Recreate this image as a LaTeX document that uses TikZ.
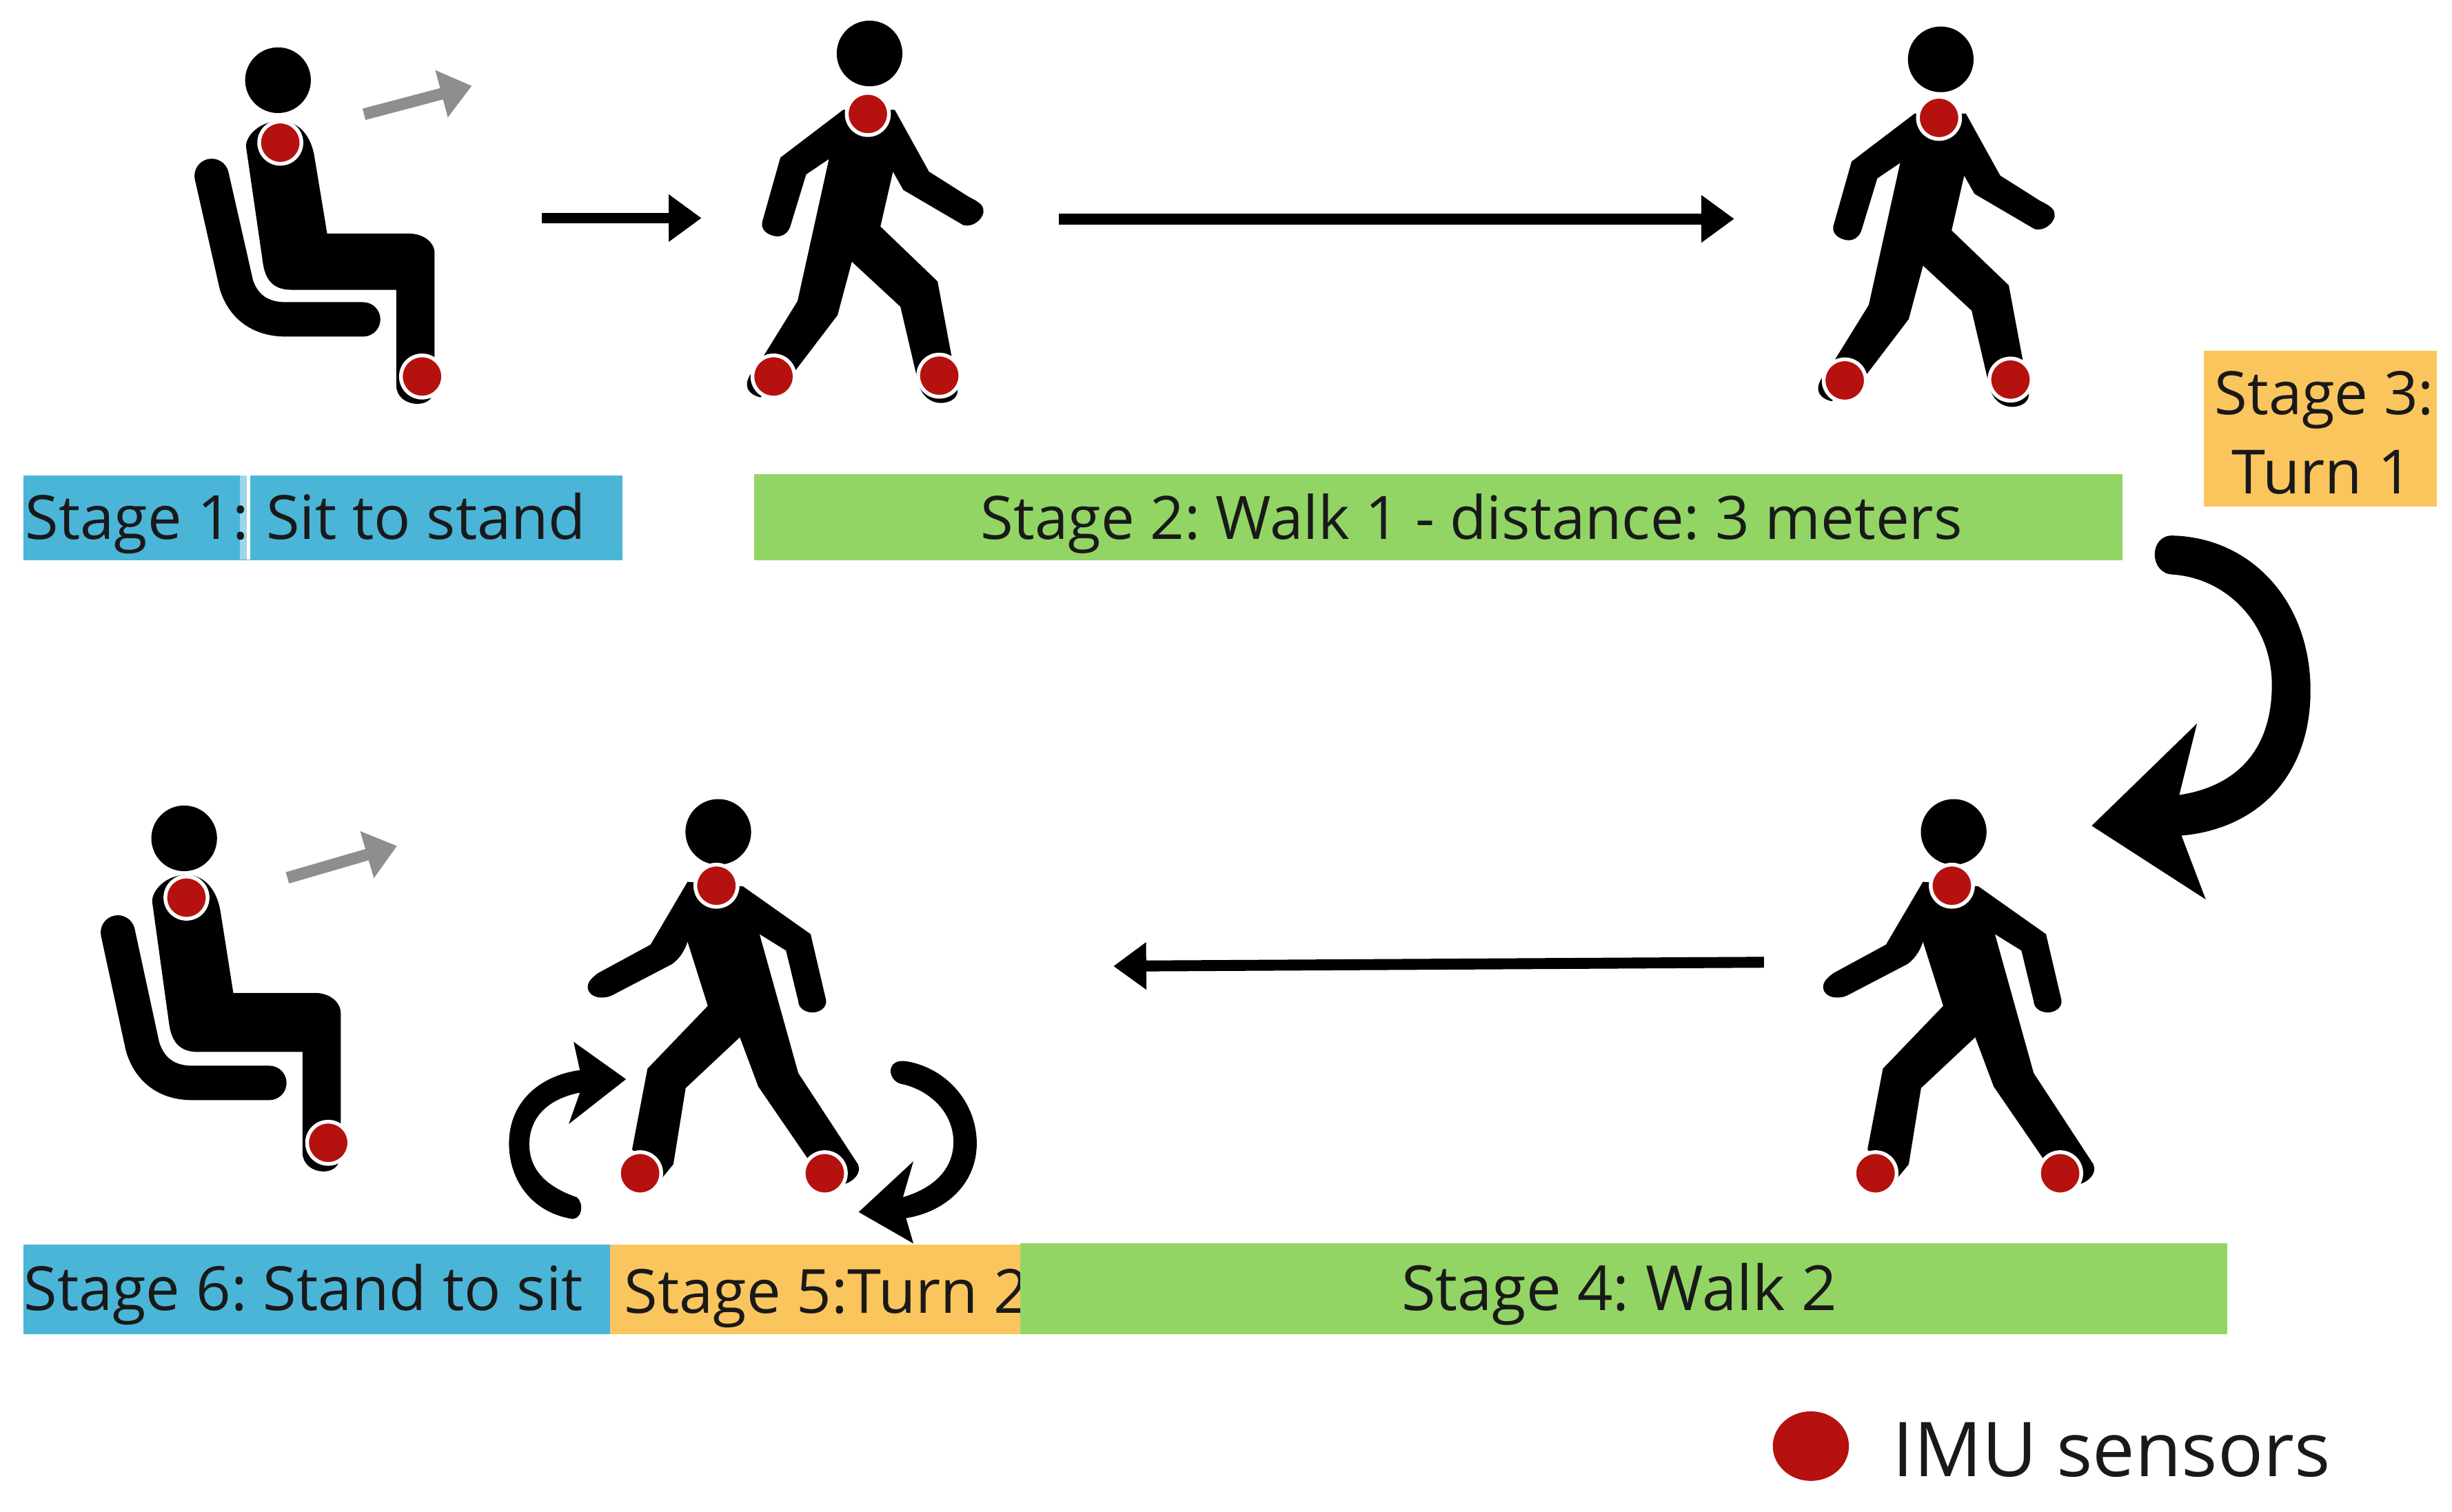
\documentclass[tikz,border=0pt]{standalone}
\usepackage{fontspec}
\setmainfont{Open Sans}
\usetikzlibrary{arrows.meta,shapes.geometric}
\definecolor{sensorred}{HTML}{B5110F}
\definecolor{barblue}{HTML}{4BB5D8}
\definecolor{bargreen}{HTML}{92D565}
\definecolor{barorange}{HTML}{FBC55E}
\definecolor{arrowgray}{HTML}{8E8E8E}
\tikzset{
  headdot/.style={circle,fill=black,minimum size=42pt,inner sep=0pt},
  sensor/.style={circle,fill=sensorred,draw=white,line width=2.4pt,minimum size=27pt,inner sep=0pt},
  stagebar/.style={inner sep=0pt,anchor=north west},
  stagetext/.style={inner sep=0pt,anchor=base west,font=\fontsize{#1}{#1}\selectfont\frenchspacing,text=black!90},
  stagetext/.default=39,
  flow/.style={line width=7pt,-{Triangle[length=21pt,width=29pt]}},
  lean/.style={line width=7.5pt,arrowgray,-{Triangle[length=20pt,width=30pt]}},
  sitfig/.pic={
    \fill[black] (165,520) -- (195,940) .. controls (200,1000) and (215,1030) .. (245,1030)
      -- (428,1030) -- (428,1370) .. controls (428,1410) and (445,1435) .. (465,1435)
      .. controls (485,1435) and (495,1410) .. (495,1370) -- (495,900)
      .. controls (495,860) and (475,830) .. (450,830) -- (307,830) -- (285,560)
      .. controls (280,490) and (260,430) .. (225,430) .. controls (190,430) and (165,480) .. (165,520) -- cycle;
    \draw[black,line width=22pt,line cap=round,line join=round]
      (105,625) -- (148,1010) .. controls (160,1090) and (190,1135) .. (235,1135) -- (370,1135);
    \node[headdot] (-head) at (221,#1) {};
    \node[sensor] (-neck) at (225,507) {};
    \node[sensor] (-foot) at (473,1338) {};
  },
  walkr/.pic={
    \fill[black] (1210,390) -- (1100,560) -- (1068,790) .. controls (1065,825) and (1085,840) .. (1095,840)
      .. controls (1105,840) and (1115,825) .. (1118,800) -- (1145,620) -- (1185,565)
      -- (1130,1070) -- (1060,1300) .. controls (1030,1360) and (1040,1400) .. (1065,1412)
      -- (1125,1320) -- (1200,1120) -- (1225,930) -- (1310,1090) -- (1340,1350)
      .. controls (1345,1410) and (1365,1432) .. (1380,1432) .. controls (1400,1432) and (1412,1410) .. (1410,1380)
      -- (1375,1000) -- (1275,805) -- (1297,610) -- (1315,675) -- (1420,800)
      .. controls (1440,810) and (1458,770) .. (1455,745) .. controls (1455,725) and (1440,710) .. (1430,700)
      -- (1360,610) -- (1300,390) -- cycle;
    \node[headdot] (-head) at (1256,#1) {};
    \node[sensor] (-neck) at (1253,405) {};
    \node[sensor] (-footl) at (1088,1338) {};
    \node[sensor] (-footr) at (1378,1335) {};
  },
  walkl/.pic={
    \fill[black] (1095,360) -- (1205,520) -- (1230,740) .. controls (1232,765) and (1220,782) .. (1208,782)
      .. controls (1195,782) and (1185,765) .. (1185,745) -- (1165,575) -- (1122,520)
      -- (1185,985) -- (1282,1290) .. controls (1288,1320) and (1275,1345) .. (1262,1355)
      -- (1200,1270) -- (1120,1030) -- (1090,865) -- (1002,1035) -- (982,1290)
      -- (960,1345) -- (915,1240) -- (940,970) -- (1038,760) -- (1005,545)
      .. controls (1000,580) and (990,605) .. (980,620) -- (885,722)
      .. controls (870,740) and (845,735) .. (843,700) .. controls (842,680) and (850,665) .. (860,650)
      -- (945,555) -- (1005,345) -- cycle;
    \node[headdot] (-head) at (1055,178) {};
    \node[sensor] (-neck) at (1052,358) {};
    \node[sensor] (-footl) at (928,1320) {};
    \node[sensor] (-footr) at (1228,1320) {};
  },
}
\begin{document}
\begin{tikzpicture}[x=1pt,y=-1pt]
\useasboundingbox (0,0) rectangle (1568,967);
% figures
\pic (sitA) at (97,0) [xscale=.3655,yscale=.18] {sitfig=285};
\pic (walkB) at (97,0) [xscale=.3655,yscale=.18] {walkr=190};
\pic (walkC) at (782,2.5) [xscale=.3655,yscale=.18] {walkr=197};
\pic (sitF) at (37,478.5) [xscale=.3655,yscale=.1887] {sitfig=306};
\pic (walkE) at (44.08,498.1) [xscale=.3936,yscale=.1912] {walkl};
\pic (walkD) at (834.08,498.1) [xscale=.3936,yscale=.1912] {walkl};
% connector ends
\coordinate (a1s) at (346.3,139.5); \coordinate (a1e) at (448.6,139.5);
\coordinate (a2s) at (677,140); \coordinate (a2e) at (1109,140);
\coordinate (a4s) at (1128,615.5); \coordinate (a4e) at (712,618);
\coordinate (g1s) at (232.8,73.1); \coordinate (g1e) at (301.7,54.9);
\coordinate (g2s) at (183.8,561.5); \coordinate (g2e) at (253.9,541.1);
\draw[flow] (a1s) -- (a1e);
\draw[flow] (a2s) -- (a2e);
\draw[flow] (a4s) -- (a4e);
\draw[lean] (g1s) -- (g1e);
\draw[lean] (g2s) -- (g2e);
% stage bars
\node[stagebar,fill=barblue,minimum width=383pt,minimum height=54pt] (s1) at (15,304) {};
\fill[barblue!55!white] (153.5,304) rectangle (158,358);
\fill[white] (158,304) rectangle (160,358);
\node[stagetext] (t1) at (16,345) {Stage 1:\hspace{1pt} Sit to stand};
\node[stagebar,fill=bargreen,minimum width=875pt,minimum height=55pt] (s2) at (482,303) {};
\node[stagetext=38.3] (t2) at (627,345) {Stage 2: Walk 1 - distance: 3 meters};
\node[stagebar,fill=barorange,minimum width=149pt,minimum height=100pt] (s3) at (1409,224) {};
\node[stagetext=38.3] (t3a) at (1416,265) {Stage 3:};
\node[stagetext] (t3b) at (1427,316) {Turn 1};
\node[stagebar,fill=barblue,minimum width=375pt,minimum height=57pt] (s6) at (15,796) {};
\node[stagetext] (t6) at (15,838) {Stage 6: Stand to sit};
\node[stagebar,fill=barorange,minimum width=262pt,minimum height=57pt] (s5) at (390,796) {};
\node[stagetext] (t5) at (399,840) {Stage 5:Turn 2};
\node[stagebar,fill=bargreen,minimum width=772pt,minimum height=58pt] (s4) at (652,795) {};
\node[stagetext=39.8] (t4) at (896,838) {Stage 4: Walk 2};
% curved arrows
\fill[black] (1389.5,342.6) .. controls (1440,344) and (1477.5,385) .. (1477.5,441.7)
  .. controls (1477.5,495) and (1445,530) .. (1395,534.5) -- (1410.5,575.3) -- (1337.6,528.2)
  -- (1404.9,462.8) -- (1393.6,508.5) .. controls (1430,503) and (1452.8,480) .. (1452.8,438)
  .. controls (1452.8,400) and (1425,370) .. (1389.5,367.5)
  .. controls (1374,367) and (1374,342) .. (1389.5,342.6) -- cycle;
\fill[black] (370.8,684.5) -- (366.8,666.4) -- (400.3,690.3) -- (363.7,719) -- (370.8,698.9)
  .. controls (350,703) and (338.5,715) .. (338.5,732) .. controls (338.5,750) and (352,760) .. (368.8,765.8)
  .. controls (374,770) and (372,781) .. (364.9,779.5) .. controls (340,775) and (325.5,755) .. (325.5,731.4)
  .. controls (325.5,705) and (345,688) .. (370.8,684.5) -- cycle;
\fill[black] (579.4,678.8) .. controls (605,683) and (624.6,705) .. (624.6,731.4)
  .. controls (624.6,757) and (605,775) .. (579.4,779.2) -- (584.1,795.4) -- (549.1,775.3)
  -- (584.1,742.8) -- (577.4,765.8) .. controls (597,760) and (609.7,748) .. (609.7,730.4)
  .. controls (609.7,712) and (595,697) .. (575.4,693.1) .. controls (567,690) and (567,677) .. (579.4,678.8) -- cycle;
% legend
\node[ellipse,fill=sensorred,minimum width=48.7pt,minimum height=44.5pt,inner sep=0pt] (legdot) at (1158,925) {};
\node[inner sep=0pt,anchor=base west,font=\fontsize{48.4}{48.4}\selectfont\frenchspacing,text=black!90] (legtxt) at (1210,944.4) {IMU sensors};
\end{tikzpicture}
\end{document}
